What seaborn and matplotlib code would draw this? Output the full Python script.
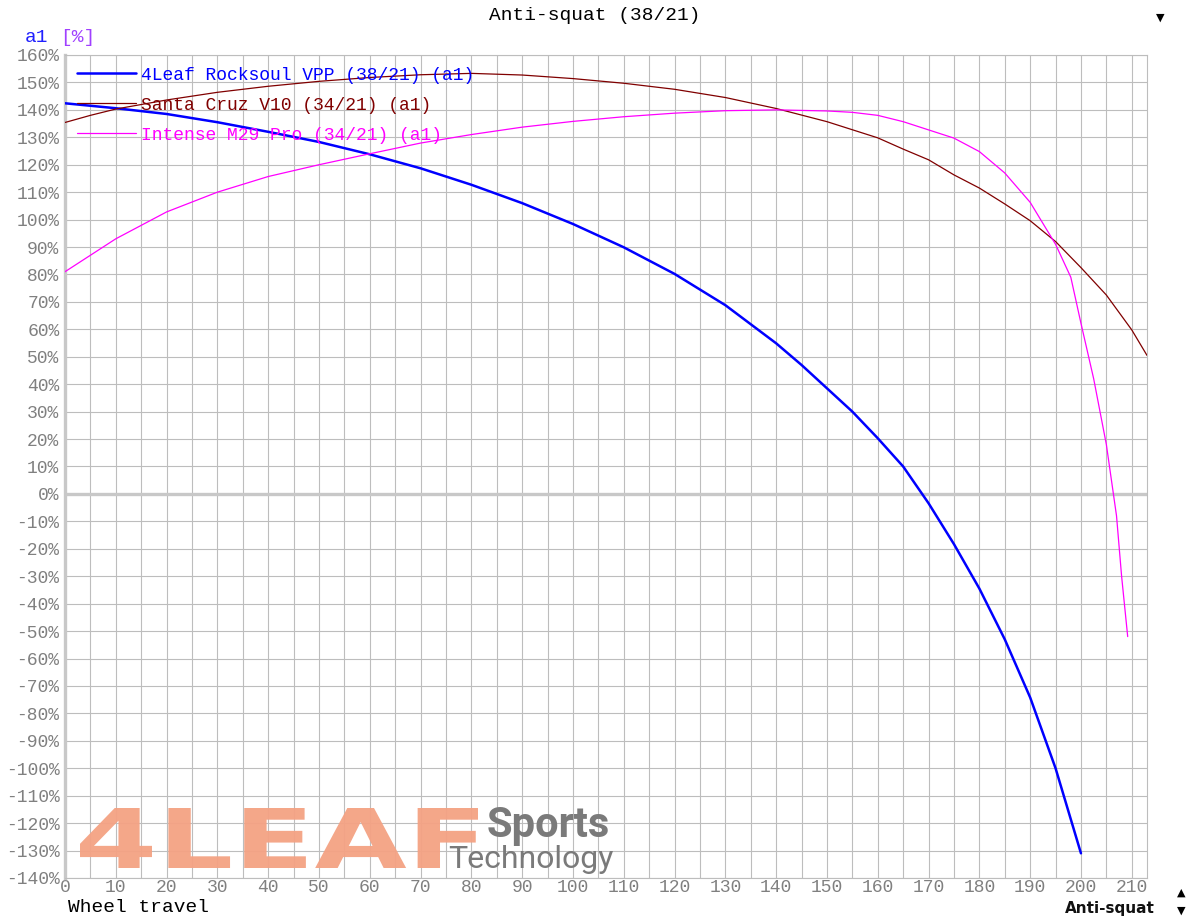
import numpy as np
import pandas as pd
import matplotlib
matplotlib.use("Agg")
import matplotlib.pyplot as plt
import seaborn as sns
from matplotlib.textpath import TextPath
from matplotlib.patches import PathPatch
from matplotlib.font_manager import FontProperties
from matplotlib.transforms import Affine2D

# Daten
travel_4leaf = [0, 5, 10, 20, 30, 40, 50, 60, 70, 80, 90, 100, 110, 120, 130, 140,
                145, 150, 155, 160, 165, 170, 175, 180, 185, 190, 195, 200]
as_4leaf = [142.4, 141.5, 140.6, 138.5, 135.5, 132.0, 128.3, 123.8, 118.7, 112.7, 106.0,
            98.4, 89.9, 80.2, 68.8, 54.9, 47.0, 38.5, 30.0, 20.3, 10.0, -3.4, -18.3,
            -34.5, -53.0, -74.2, -100.0, -131.0]

travel_v10 = [0, 5, 10, 20, 30, 40, 50, 60, 70, 80, 90, 100, 110, 120, 130, 140,
              150, 160, 165, 170, 175, 180, 185, 190, 195, 200, 205, 210, 213]
as_v10 = [135.4, 138.0, 140.3, 143.6, 146.4, 148.6, 150.4, 151.8, 152.8, 153.3, 152.7,
          151.4, 149.7, 147.5, 144.5, 140.5, 135.7, 129.8, 125.7, 121.8, 116.3, 111.5,
          105.7, 99.6, 92.0, 82.5, 72.5, 59.8, 50.5]

travel_m29 = [0, 5, 10, 20, 30, 40, 50, 60, 70, 80, 90, 100, 110, 120, 130, 140, 150,
              155, 160, 165, 170, 175, 180, 185, 190, 195, 198, 200, 202.5, 205, 207, 208, 209.2]
as_m29 = [81.0, 87.0, 93.0, 102.8, 110.0, 115.7, 120.0, 124.0, 127.9, 131.0, 133.7,
          135.8, 137.5, 138.8, 139.7, 140.0, 139.6, 139.1, 138.0, 135.7, 132.7, 129.7,
          124.8, 117.0, 106.3, 91.0, 79.0, 62.2, 42.0, 18.0, -8.0, -30.0, -52.0]

series_labels = ["4Leaf Rocksoul VPP (38/21) (a1)",
                 "Santa Cruz V10 (34/21) (a1)",
                 "Intense M29 Pro (34/21) (a1)"]
series_colors = ["#0000ff", "#800000", "#ff00ff"]
series_widths = [1.8, 0.9, 0.9]

x_ticks = list(range(0, 211, 10))
y_ticks = list(range(-140, 161, 10))

# Plot
sns.set_style("white")
plt.rcParams["font.family"] = ["Liberation Mono", "DejaVu Sans"]

fig = plt.figure(figsize=(11.94, 9.24), dpi=100)
ax = fig.add_axes([65 / 1194, 1 - 878 / 924, (1147 - 65) / 1194, (878 - 55) / 924])

grid_c = "#bdbdbd"
for x in np.arange(0, 213, 5):
    ax.axvline(x, color=grid_c, lw=0.8, zorder=0)
for y in y_ticks:
    ax.axhline(y, color=grid_c, lw=0.8, zorder=0)
ax.axhline(0, color="#c8c8c8", lw=2.4, zorder=0.5)

datasets = [(travel_4leaf, as_4leaf), (travel_v10, as_v10), (travel_m29, as_m29)]
for (xs, ys), lab, col, lw in zip(datasets, series_labels, series_colors, series_widths):
    df = pd.DataFrame({"travel": xs, "anti_squat": ys})
    sns.lineplot(data=df, x="travel", y="anti_squat", color=col, lw=lw,
                 label=lab, ax=ax, zorder=3, sort=False)

ax.set_xlim(0, 213)
ax.set_ylim(-140, 160)
ax.set_xticks(x_ticks)
ax.set_xticklabels([str(v) for v in x_ticks])
ax.set_yticks(y_ticks)
ax.set_yticklabels([f"{v}%" for v in y_ticks])
ax.tick_params(axis="both", length=0, labelsize=13, labelcolor="#808080")
ax.tick_params(axis="x", pad=1)
ax.tick_params(axis="y", pad=4)
ax.set_xlabel("")
ax.set_ylabel("")

for s in ["top", "right", "bottom"]:
    ax.spines[s].set_color(grid_c)
    ax.spines[s].set_linewidth(0.8)
ax.spines["left"].set_color("#c8c8c8")
ax.spines["left"].set_linewidth(2.4)

leg = ax.legend(loc="upper left", frameon=False, fontsize=13, handlelength=3.3,
                handletextpad=0.25, labelspacing=0.72, borderaxespad=0.25,
                labelcolor="linecolor")

# Beschriftungen
fig.text(595 / 1194, 1 - 15 / 924, "Anti-squat (38/21)", ha="center", va="center",
         fontsize=14, color="black")
fig.text(25 / 1194, 1 - 38 / 924, "a1", ha="left", va="center", fontsize=14, color="#2020ff")
fig.text(60 / 1194, 1 - 38 / 924, "[%]", ha="left", va="center", fontsize=14, color="#a040ff")
fig.text(68 / 1194, 1 - 908 / 924, "Wheel travel", ha="left", va="center",
         fontsize=14, color="black")
fig.text(1110 / 1194, 1 - 908 / 924, "Anti-squat", ha="center", va="center",
         fontsize=11, fontweight="bold", family="DejaVu Sans", color="#111111")
fig.text(1160 / 1194, 1 - 18 / 924, "\u25bc", ha="center", va="center", fontsize=8,
         family="DejaVu Sans", color="black")
fig.text(1181 / 1194, 1 - 893 / 924, "\u25b2", ha="center", va="center", fontsize=8,
         family="DejaVu Sans", color="black")
fig.text(1181 / 1194, 1 - 911 / 924, "\u25bc", ha="center", va="center", fontsize=8,
         family="DejaVu Sans", color="black")

# Logo
def boxed_text(txt, x0, y0, x1, y1, color, weight="bold", alpha=1.0):
    tp = TextPath((0, 0), txt, size=1, prop=FontProperties(family="DejaVu Sans", weight=weight))
    ext = tp.get_extents()
    sx = (x1 - x0) / 1194 / ext.width
    sy = (y1 - y0) / 924 / ext.height
    tr = Affine2D().translate(-ext.x0, -ext.y0).scale(sx, sy).translate(x0 / 1194, 1 - y1 / 924)
    patch = PathPatch(tr.transform_path(tp), facecolor=color, edgecolor="none",
                      alpha=alpha, transform=fig.transFigure, zorder=5)
    fig.add_artist(patch)

boxed_text("4LEAF", 80, 808, 478, 868, "#f4a283", alpha=0.95)
fig.text(487 / 1194, 1 - 826 / 924, "Sports", ha="left", va="center", fontsize=30,
         fontweight="bold", family="Roboto", color="#7a7a7a")
fig.text(448 / 1194, 1 - 860 / 924, "Technology", ha="left", va="center", fontsize=23,
         family="Roboto", color="#7a7a7a")

fig.savefig("out.png", dpi=100)
